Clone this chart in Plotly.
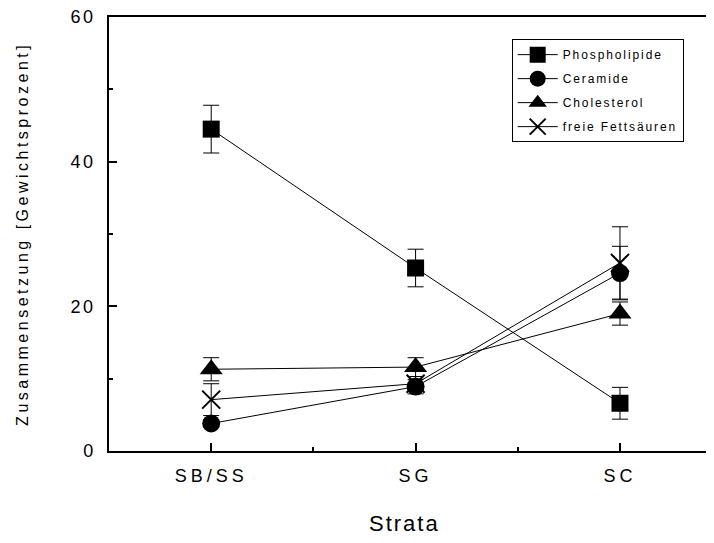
import plotly.graph_objects as go

# ---- data ----
categories = ["SB/SS", "SG", "SC"]
x_pos = [1, 2, 3]
series_names = ["Phospholipide", "Ceramide", "Cholesterol", "freie Fettsäuren"]
phospholipide = [44.5, 25.3, 6.6]
phospholipide_err = [3.3, 2.6, 2.2]
ceramide = [3.8, 8.9, 24.6]
ceramide_err = [0.5, 1.0, 3.7]
cholesterol = [11.3, 11.6, 19.0]
cholesterol_err = [1.6, 1.3, 1.6]
fettsaeuren = [7.1, 9.3, 26.0]
fettsaeuren_err = [2.2, 1.0, 5.0]
y_ticks = [0, 20, 40, 60]
y_minor = [10, 30, 50]
x_minor = [1.5, 2.5]

FONT = "Liberation Sans, Arial, sans-serif"


def ls(text, px):
    return f'<span style="letter-spacing:{px}px">{text}</span>'


styles = [
    dict(symbol="square", size=17),
    dict(symbol="circle", size=18),
    dict(symbol="triangle-up", size=20),
    dict(symbol="x-thin", size=18, line=dict(width=2, color="black")),
]
values = [phospholipide, ceramide, cholesterol, fettsaeuren]
errors = [phospholipide_err, ceramide_err, cholesterol_err, fettsaeuren_err]

fig = go.Figure()
for i, (name, vals, errs, st) in enumerate(zip(series_names, values, errors, styles)):
    fig.add_trace(go.Scatter(
        x=x_pos, y=vals, name=ls(name, 1.9), mode="lines+markers",
        legendgroup=f"g{i}",
        line=dict(color="black", width=1),
        marker=dict(color="black", **st),
        error_y=dict(type="data", array=errs, visible=True, color="black",
                     thickness=1, width=8),
    ))

# the page body has an 8px margin, so the figure is 8px smaller and margins shifted
fig.update_layout(
    width=706, height=535,
    margin=dict(l=101, r=0, t=9, b=92),
    paper_bgcolor="white", plot_bgcolor="white",
    font=dict(family=FONT, color="black"),
    showlegend=True,
    legend=dict(
        x=0.6656, y=0.949, xanchor="left", yanchor="top",
        bordercolor="black", borderwidth=1, bgcolor="white",
        font=dict(size=12, family=FONT), itemwidth=40,
        tracegroupgap=5,
    ),
    xaxis=dict(
        range=[0.5, 3.46], tickvals=x_pos,
        ticktext=[ls(c, 4) for c in categories],
        showline=True, linecolor="black", linewidth=1.5, mirror=True,
        ticks="inside", ticklen=8, tickwidth=1.5, tickcolor="black",
        minor=dict(tickvals=x_minor, ticks="inside", ticklen=4, tickwidth=1.5, tickcolor="black"),
        showgrid=False, zeroline=False,
        tickfont=dict(size=18), ticklabelstandoff=8, ticklabeloverflow="allow",
    ),
    yaxis=dict(
        range=[0, 60], tickvals=y_ticks,
        ticktext=[ls(str(v), 2.5) for v in y_ticks],
        showline=True, linecolor="black", linewidth=1.5, mirror=False,
        ticks="inside", ticklen=8, tickwidth=1.5, tickcolor="black",
        minor=dict(tickvals=y_minor, ticks="inside", ticklen=4, tickwidth=1.5, tickcolor="black"),
        showgrid=False, zeroline=False,
        tickfont=dict(size=18), ticklabelstandoff=8, ticklabeloverflow="allow",
    ),
    annotations=[
        dict(text=ls("Strata", 2), x=0.489, y=-0.166, xref="paper", yref="paper",
             xanchor="center", yanchor="middle", showarrow=False,
             font=dict(size=22, family=FONT)),
        dict(text=ls("Zusammensetzung [Gewichtsprozent]", 3.5), x=-0.144, y=0.5,
             xref="paper", yref="paper", xanchor="center", yanchor="middle",
             textangle=-90, showarrow=False, font=dict(size=16, family=FONT)),
    ],
)

fig.write_html("out.html")
